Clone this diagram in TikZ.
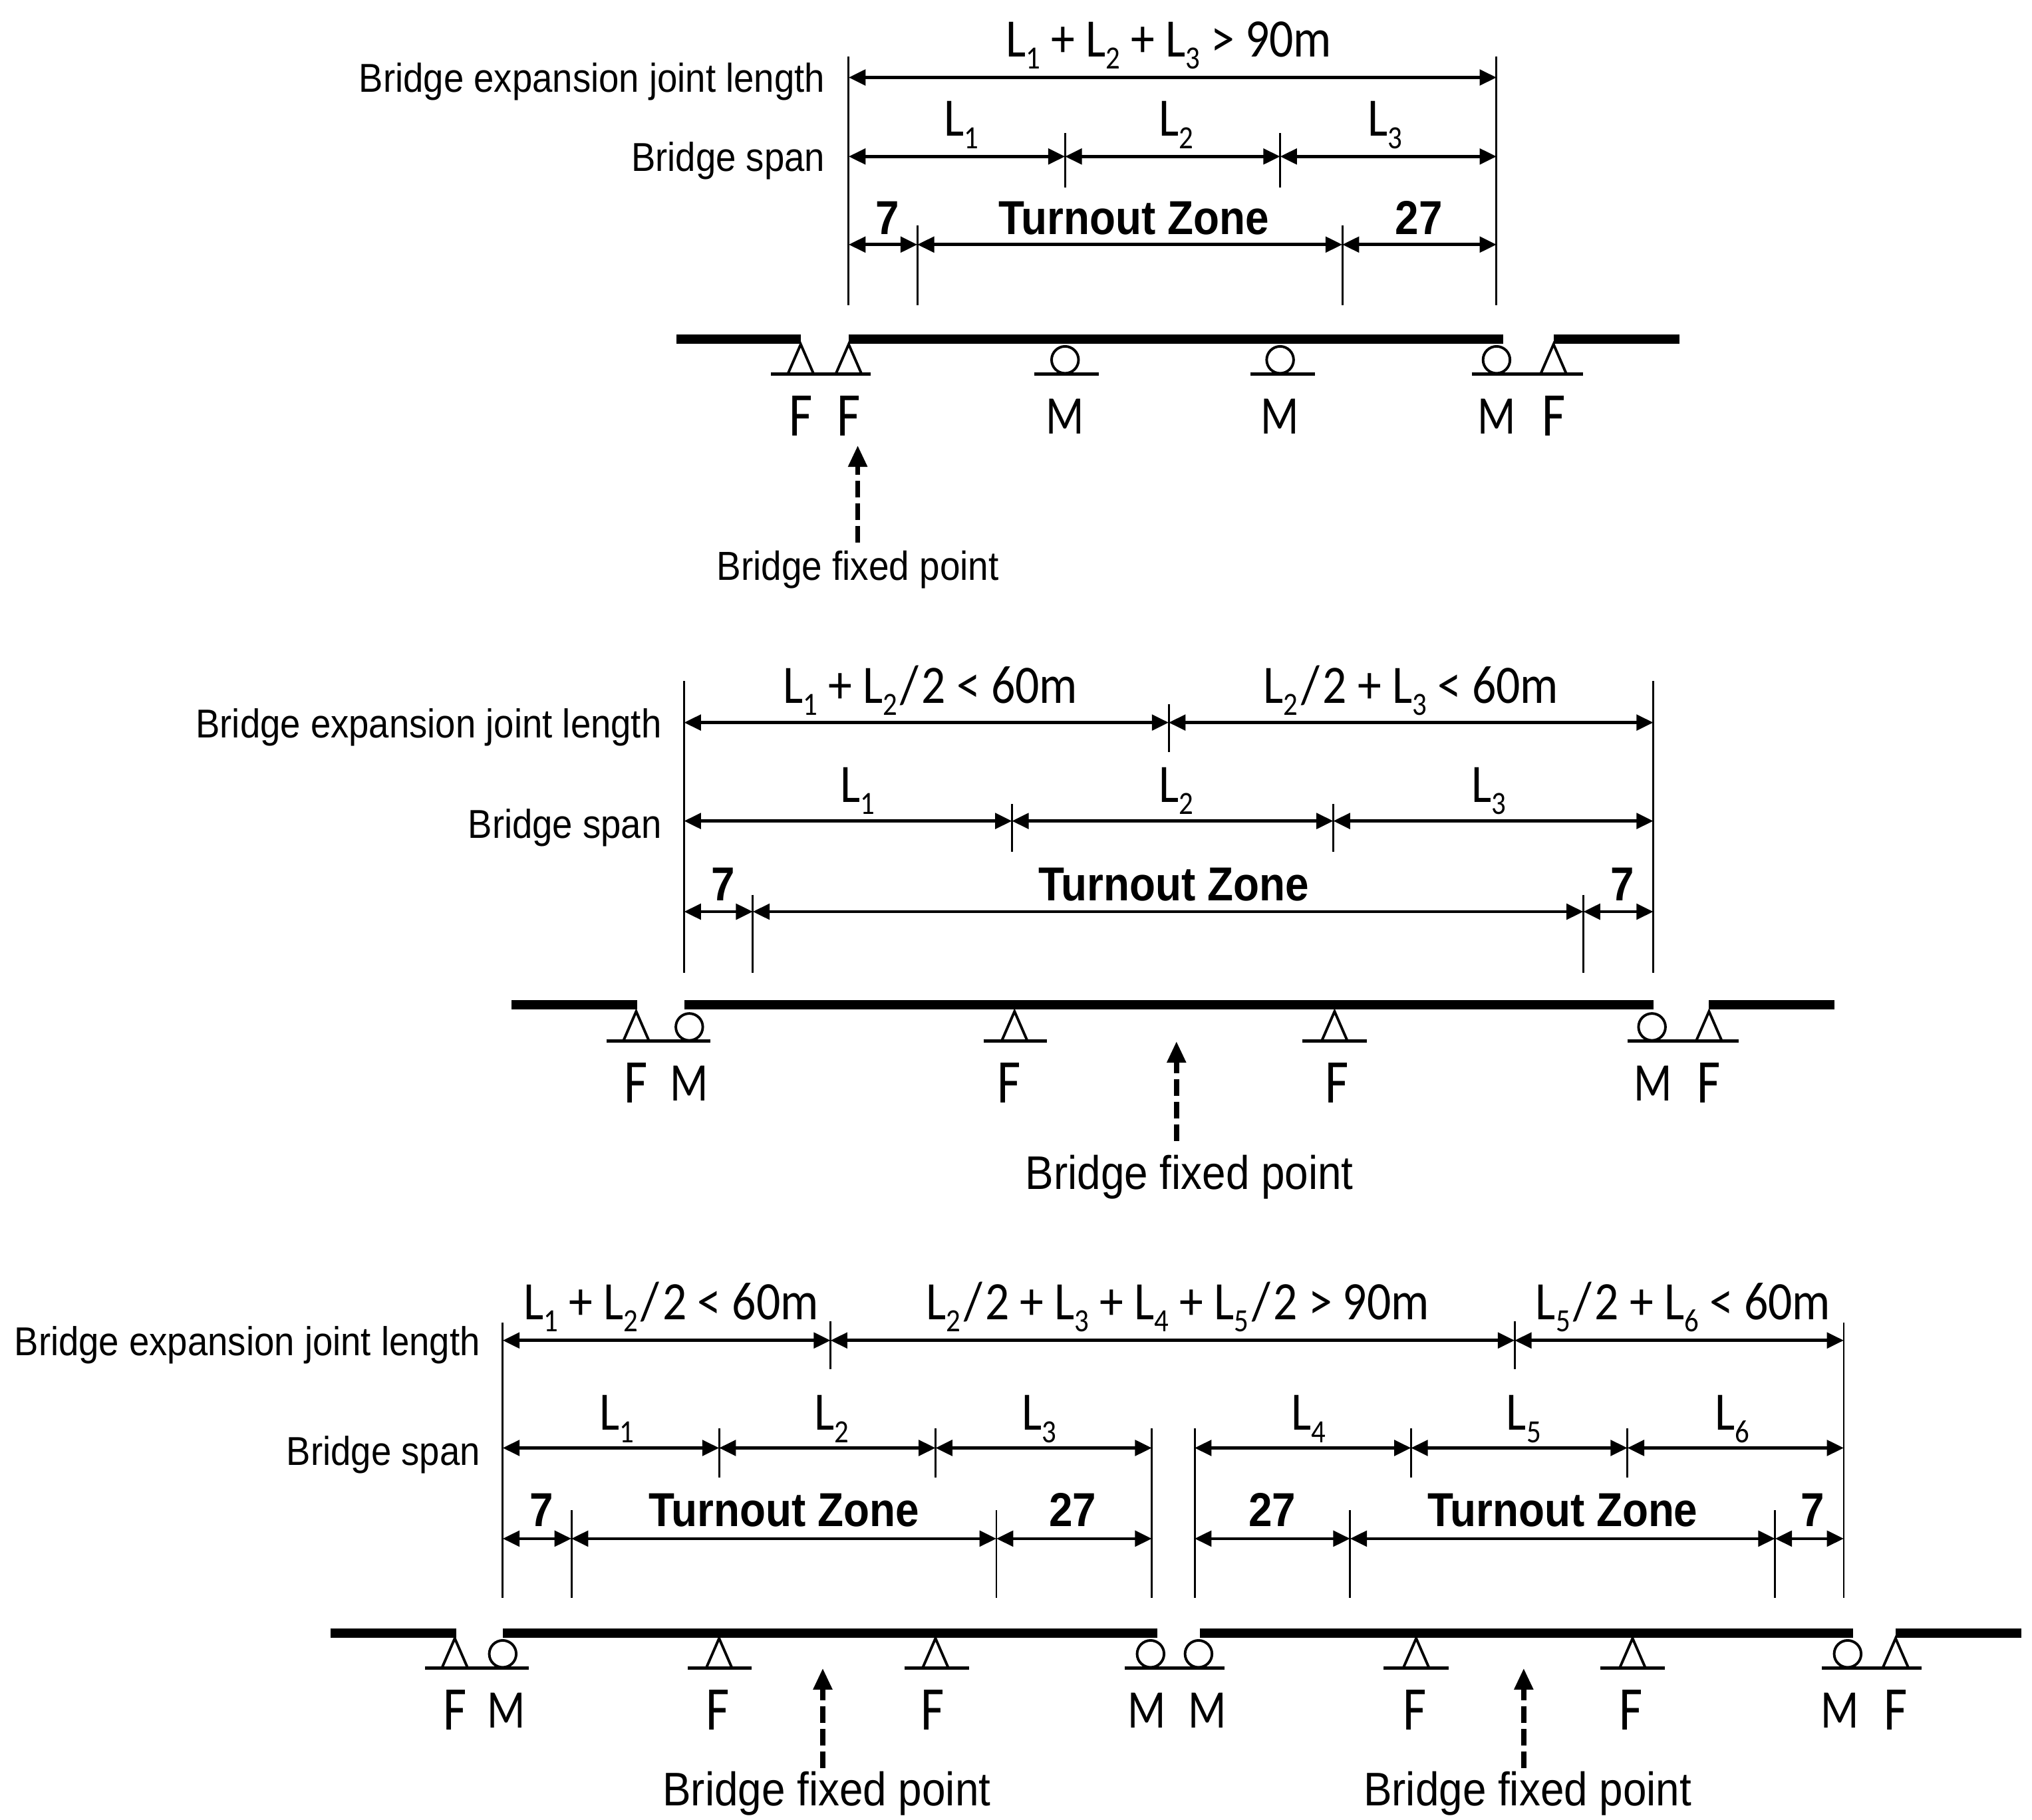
\documentclass[tikz,border=0pt]{standalone}
\usepackage{fontspec}
\usetikzlibrary{arrows.meta}
\setmainfont{Carlito}
\newfontfamily\narrowfont[FakeStretch=0.90]{Liberation Sans}
\newfontfamily\narrowbold[FakeStretch=0.89]{Liberation Sans Bold}
\newfontfamily\formfont[FakeStretch=0.88]{Carlito}
\newfontfamily\supfont[FakeStretch=0.82]{Carlito}
\newcommand\subs[1]{\raisebox{-4.7pt}{\fontsize{12.5}{12.5}\selectfont #1}}
\newcommand\Ls[1]{L\subs{#1}}
\newcommand\half{\kern1.2pt/\kern1.2pt2}
\newcounter{autoname}
\newcommand\txt[4][labeltext]{\stepcounter{autoname}\node[#1] (t\theautoname) at (#2,#3) {#4};}
\newcommand\rtxt[3]{\stepcounter{autoname}\node[rowlabel] (t\theautoname) at (#1,#2) {#3};}
% a row of dimension arrows between named points
\newcommand\dimrow[3]{%
  \foreach \px [count=\i, remember=\i as \j (initially 0)] in {#3} {%
    \coordinate (#1-\i) at (\px,#2);
    \ifnum\j>0 \draw[dimline] (#1-\j) -- (#1-\i);\fi
  }}
\newcommand\tick[3]{\stepcounter{autoname}%
  \coordinate (tka\theautoname) at (#1,#2);
  \coordinate (tkb\theautoname) at (#1,#3);
  \draw[tickline] (tka\theautoname) -- (tkb\theautoname);}
\newcommand\deck[3]{\stepcounter{autoname}%
  \coordinate (da\theautoname) at (#1,#3);
  \coordinate (db\theautoname) at (#2,#3);
  \draw[deckline] (da\theautoname) -- (db\theautoname);}
\newcommand\base[3]{\stepcounter{autoname}%
  \coordinate (ba\theautoname) at (#1,#3);
  \coordinate (bb\theautoname) at (#2,#3);
  \draw[baseline] (ba\theautoname) -- (bb\theautoname);}
\newcommand\fixedsup[2]{\draw[supline,line join=miter] (#1-10,#2) -- (#1,#2-23) -- (#1+10,#2);}
\newcommand\movesup[2]{\draw[supline] (#1,#2-11) circle [radius=10.4];}
\newcommand\fixarrow[3]{\stepcounter{autoname}%
  \coordinate (fa\theautoname) at (#1,#2);
  \coordinate (fb\theautoname) at (#1,#3);
  \draw[fixline] (fa\theautoname) -- (fb\theautoname);}
\tikzset{
  x=0.5pt,y=-0.5pt,
  dimline/.style={line width=1.2pt,{Triangle[length=6.5pt,width=6pt]}-{Triangle[length=6.5pt,width=6pt]}},
  tickline/.style={line width=0.75pt},
  deckline/.style={line width=3.7pt},
  baseline/.style={line width=1.2pt},
  supline/.style={line width=1pt},
  fixline/.style={line width=2pt,dash pattern=on 6.4pt off 2.3pt,-{Triangle[length=8.3pt,width=7pt]}},
  labeltext/.style={inner sep=0pt,anchor=base,yshift=-6.2pt,font=\narrowfont\fontsize{18.2}{18.2}\selectfont},
  fixsmall/.style={inner sep=0pt,anchor=base,yshift=-5.55pt,font=\narrowfont\fontsize{15.65}{15.65}\selectfont},
  rowlabel/.style={inner sep=0pt,anchor=base east,yshift=-5.25pt,font=\narrowfont\fontsize{15.55}{15.55}\selectfont},
  formula/.style={inner sep=0pt,anchor=base,yshift=-6.5pt,font=\formfont\fontsize{20.9}{20.9}\selectfont},
  spanlabel/.style={inner sep=0pt,anchor=base,yshift=-3.65pt,font=\formfont\fontsize{20.9}{20.9}\selectfont},
  zone/.style={inner sep=0pt,anchor=base,yshift=-6.7pt,font=\narrowbold\fontsize{18.4}{18.4}\selectfont},
  suplabelF/.style={inner sep=0pt,anchor=base,yshift=-7.3pt,font=\supfont\fontsize{24}{24}\selectfont},
  suplabelM/.style={inner sep=0pt,anchor=base,yshift=-6.45pt,font=\supfont\fontsize{21}{21}\selectfont},
}
\begin{document}
\begin{tikzpicture}
\useasboundingbox (0,-0.8) rectangle (1568.3,1404.2);
% ---------- top
\tick{655}{43}{235}\tick{1155}{43}{235}
\tick{822}{102}{144}\tick{988}{102}{144}
\tick{708}{173}{235}\tick{1036}{173}{235}
\dimrow{aa}{59}{655,1155}
\dimrow{ab}{120}{655,822,988,1155}
\dimrow{ac}{188}{655,708,1036,1155}
\deck{522}{618}{261}\deck{655}{1160}{261}\deck{1199}{1296}{261}
\base{595}{672}{288}\base{798}{848}{288}\base{965}{1015}{288}\base{1136}{1222}{288}
\fixedsup{618}{288}\fixedsup{655}{288}\movesup{822}{288}\movesup{988}{288}\movesup{1155}{288}\fixedsup{1199}{288}
\foreach \x/\t in {618/F,655/F,822/M,988/M,1155/M,1199/F} {\txt[suplabel\t]{\x}{321}{\t}}
\fixarrow{662}{418}{343}
\txt[fixsmall]{662}{436}{Bridge fixed point}
\rtxt{637}{60}{Bridge expansion joint length}
\rtxt{637}{121}{Bridge span}
\txt[formula]{902}{30}{\Ls1 + \Ls2 + \Ls3 > 90m}
\txt[spanlabel]{742}{97}{\Ls1}\txt[spanlabel]{908}{97}{\Ls2}\txt[spanlabel]{1069}{97}{\Ls3}
\txt[zone]{685}{167}{7}\txt[zone]{875}{167}{Turnout Zone}\txt[zone]{1095}{167}{27}
% ---------- middle
\tick{528}{525}{750}\tick{1276}{525}{750}
\tick{902}{543}{580}\tick{781}{620}{657}\tick{1029}{620}{657}
\tick{581}{690}{750}\tick{1222}{690}{750}
\dimrow{ba}{557}{528,902,1276}
\dimrow{bb}{633}{528,781,1029,1276}
\dimrow{bc}{703}{528,581,1222,1276}
\deck{395}{492}{775}\deck{528}{1276}{775}\deck{1319}{1416}{775}
\base{468}{548}{803}\base{759}{808}{803}\base{1005}{1055}{803}\base{1256}{1342}{803}
\fixedsup{491}{803}\movesup{532}{803}\fixedsup{783}{803}\fixedsup{1030}{803}\movesup{1275}{803}\fixedsup{1319}{803}
\foreach \x/\t in {491/F,532/M,779/F,1032/F,1276/M,1319/F} {\txt[suplabel\t]{\x}{836}{\t}}
\fixarrow{908}{880}{803}
\txt{918}{905}{Bridge fixed point}
\rtxt{511}{558}{Bridge expansion joint length}
\rtxt{511}{636}{Bridge span}
\txt[formula]{718}{529}{\Ls1 + \Ls2\half{} < 60m}
\txt[formula]{1089}{529}{\Ls2\half{} + \Ls3 < 60m}
\txt[spanlabel]{662}{611}{\Ls1}\txt[spanlabel]{908}{611}{\Ls2}\txt[spanlabel]{1149}{611}{\Ls3}
\txt[zone]{558}{681}{7}\txt[zone]{906}{681}{Turnout Zone}\txt[zone]{1252}{681}{7}
% ---------- bottom
\tick{388}{1020}{1233}\tick{1423}{1020}{1233}
\tick{641}{1019}{1056}\tick{1169}{1019}{1056}
\tick{555}{1102}{1140}\tick{722}{1102}{1140}\tick{1089}{1102}{1140}\tick{1256}{1102}{1140}
\tick{889}{1102}{1233}\tick{922}{1102}{1233}
\tick{441}{1165}{1233}\tick{769}{1165}{1233}\tick{1042}{1165}{1233}\tick{1370}{1165}{1233}
\dimrow{ca}{1034}{388,641,1169,1423}
\dimrow{cb}{1117}{388,555,722,889}
\dimrow{cc}{1117}{922,1089,1256,1423}
\dimrow{cd}{1187}{388,441,769,889}
\dimrow{ce}{1187}{922,1042,1370,1423}
\deck{255}{352}{1260}\deck{388}{893}{1260}\deck{926}{1430}{1260}\deck{1463}{1560}{1260}
\base{328}{408}{1287}\base{531}{580}{1287}\base{698}{748}{1287}\base{868}{945}{1287}
\base{1068}{1118}{1287}\base{1235}{1285}{1287}\base{1406}{1483}{1287}
\fixedsup{351}{1287}\movesup{388}{1287}\fixedsup{555}{1287}\fixedsup{722}{1287}
\movesup{888}{1287}\movesup{925}{1287}\fixedsup{1093}{1287}\fixedsup{1260}{1287}
\movesup{1426}{1287}\fixedsup{1463}{1287}
\foreach \x/\t in {351/F,391/M,554/F,720/F,885/M,932/M,1092/F,1259/F,1420/M,1463/F} {\txt[suplabel\t]{\x}{1320}{\t}}
\fixarrow{635}{1364}{1287}\fixarrow{1176}{1364}{1287}
\txt{638}{1381}{Bridge fixed point}\txt{1179}{1381}{Bridge fixed point}
\rtxt{371}{1035}{Bridge expansion joint length}
\rtxt{371}{1120}{Bridge span}
\txt[formula]{518}{1005}{\Ls1 + \Ls2\half{} < 60m}
\txt[formula]{909}{1005}{\Ls2\half{} + \Ls3 + \Ls4 + \Ls5\half{} > 90m}
\txt[formula]{1299}{1005}{\Ls5\half{} + \Ls6 < 60m}
\txt[spanlabel]{476}{1096}{\Ls1}\txt[spanlabel]{642}{1096}{\Ls2}\txt[spanlabel]{802}{1096}{\Ls3}
\txt[spanlabel]{1010}{1096}{\Ls4}\txt[spanlabel]{1176}{1096}{\Ls5}\txt[spanlabel]{1337}{1096}{\Ls6}
\txt[zone]{418}{1164}{7}\txt[zone]{605}{1164}{Turnout Zone}\txt[zone]{828}{1164}{27}
\txt[zone]{982}{1164}{27}\txt[zone]{1206}{1164}{Turnout Zone}\txt[zone]{1399}{1164}{7}
\end{tikzpicture}
\end{document}
